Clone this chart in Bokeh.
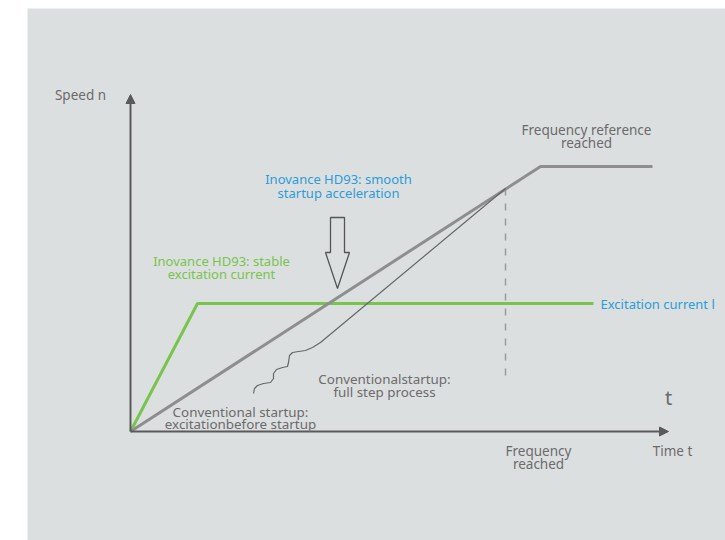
from bokeh.plotting import figure
from bokeh.models import Range1d, Label, Arrow, NormalHead
from bokeh.embed import file_html
from bokeh.resources import INLINE

# ---- data (conceptual units: time offset / speed offset from origin) ----
speed_t = [0, 410, 522]
speed_n = [0, 265, 265]

excit_t = [0, 67, 463]
excit_i = [0, 128, 128]

conv_t = [123, 124, 127, 133, 140, 143, 143, 146, 152, 157, 158, 159, 162, 168, 175, 182, 190, 375]
conv_n = [38, 43, 46, 48, 49, 53, 58, 62, 64, 65, 69, 76, 79, 80, 81, 84, 89, 243]

freq_t = [375, 375]
freq_n = [243, 53]

GRAY_TXT = "#6b6b6b"
BLUE = "#2b9cd8"
GREEN = "#78c44c"
LINE_GRAY = "#8e8e8e"
AXIS = "#5a5a5a"
FONT = "Noto Sans"

p = figure(width=725, height=540, output_backend="svg", toolbar_location=None,
           x_range=Range1d(-103, 595), y_range=Range1d(-109, 423),
           min_border_left=27, min_border_right=0, min_border_top=8, min_border_bottom=0)
p.background_fill_color = "#dcdfe0"
p.border_fill_color = "white"
p.outline_line_color = None
p.axis.visible = False
p.grid.visible = False

# axes with arrow heads
p.add_layout(Arrow(end=NormalHead(size=9, fill_color=AXIS, line_color=AXIS),
                   x_start=0, y_start=0, x_end=538, y_end=0,
                   line_color=AXIS, line_width=2))
p.add_layout(Arrow(end=NormalHead(size=9, fill_color=AXIS, line_color=AXIS),
                   x_start=0, y_start=0, x_end=0, y_end=337,
                   line_color=AXIS, line_width=2))

# dashed frequency-reached marker
p.line(freq_t, freq_n, line_color="#9a9a9a", line_width=1.5, line_dash="7 8")

# excitation current (green)
p.line(excit_t, excit_i, line_color=GREEN, line_width=3)

# smooth startup speed
p.line(speed_t, speed_n, line_color=LINE_GRAY, line_width=3)

# conventional startup
p.line(conv_t, conv_n, line_color="#666666", line_width=1.2)

# hollow down arrow
ax0, ay0 = 207, 143
arrow_x = [ax0 - 7, ax0 + 7, ax0 + 7, ax0 + 12, ax0, ax0 - 12, ax0 - 7]
arrow_y = [ay0 + 71, ay0 + 71, ay0 + 36, ay0 + 36, ay0, ay0 + 36, ay0 + 36]
p.patch(arrow_x, arrow_y, fill_color=None, line_color="#555555", line_width=1.3)


def lab(x, y, txt, color=GRAY_TXT, size="13px", align="center"):
    p.add_layout(Label(x=x, y=y, text=txt, text_color=color, text_font=FONT,
                       text_font_size=size, text_align=align, text_baseline="middle"))


lab(-50, 337, "Speed n", size="13.5px")
lab(208, 253, "Inovance HD93: smooth", color=BLUE)
lab(208, 239, "startup acceleration", color=BLUE)
lab(91, 171, "Inovance HD93: stable", color=GREEN)
lab(91, 158, "excitation current", color=GREEN)
lab(456, 302, "Frequency reference", size="13.5px")
lab(456, 289, "reached", size="13.5px")
lab(470, 128, "Excitation current l", color=BLUE, align="left")
lab(254, 53, "Conventionalstartup:", size="13.4px")
lab(254, 40, "full step process", size="13.4px")
lab(110, 20, "Conventional startup:", size="13.4px")
lab(110, 8, "excitationbefore startup", size="13.4px")
lab(538, 34, "t", size="20px")
lab(408, -19, "Frequency", size="13.5px")
lab(408, -32, "reached", size="13.5px")
lab(542, -19, "Time t", size="13.5px")

open("out.html", "w").write(file_html(p, INLINE))
